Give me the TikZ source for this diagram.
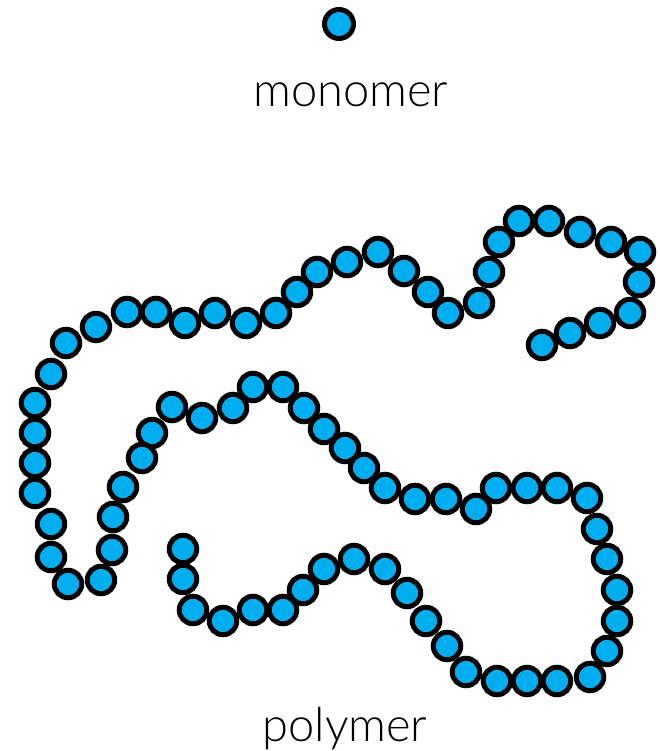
\documentclass[tikz,border=0pt]{standalone}
\usepackage{fontspec}
\setmainfont{Lato Light}
\definecolor{beadblue}{RGB}{0,174,239}
\begin{document}
\begin{tikzpicture}[x=1pt,y=-1pt,
  bead/.style={circle,draw=black,fill=beadblue,line width=5pt,minimum size=27.5pt,inner sep=0pt},
  mono/.style={circle,draw=black,fill=beadblue,line width=5pt,minimum size=29pt,inner sep=0pt},
  lbl/.style={anchor=base,inner sep=0pt,font=\fontsize{47}{52}\selectfont}]
\useasboundingbox (0,0) rectangle (660,751);
\node[mono] (monomer) at (339,24) {};
\node[lbl] (monolabel) at (351,107) {monomer};
\foreach [count=\i] \p in {(183,549),(183,579),(193,610),(223,621),(253,610),(283,610),(303,590),(324,569),(354,559),(385,569),(407,593),(426,621),(447,646),(466,672),(497,681),(527,681),(557,681),(590,677),(607,651),(617,621),(617,590),(607,559),(597,529),(587,498),(557,488),(527,488),(496,488),(476,509),(446,499),(415,499),(385,488),(364,468),(345,448),(324,429),(304,408),(283,387),(253,387),(233,408),(202,418),(172,407),(152,433),(142,458),(123,487),(113,517),(112,550),(101,580),(68,584),(51,557),(51,524),(35,493),(35,463),(35,433),(35,403),(51,374),(66,343),(96,327),(127,312),(156,312),(185,323),(215,313),(246,323),(276,313),(297,292),(317,272),(347,262),(378,252),(404,271),(428,292),(448,313),(479,303),(489,272),(499,242),(519,221),(549,221),(580,232),(611,242),(640,252),(639,282),(630,313),(600,323),(570,333),(542,345)}
  \node[bead] (b\i) at \p {};
\node[lbl] (polylabel) at (345,741) {polymer};
\end{tikzpicture}
\end{document}
